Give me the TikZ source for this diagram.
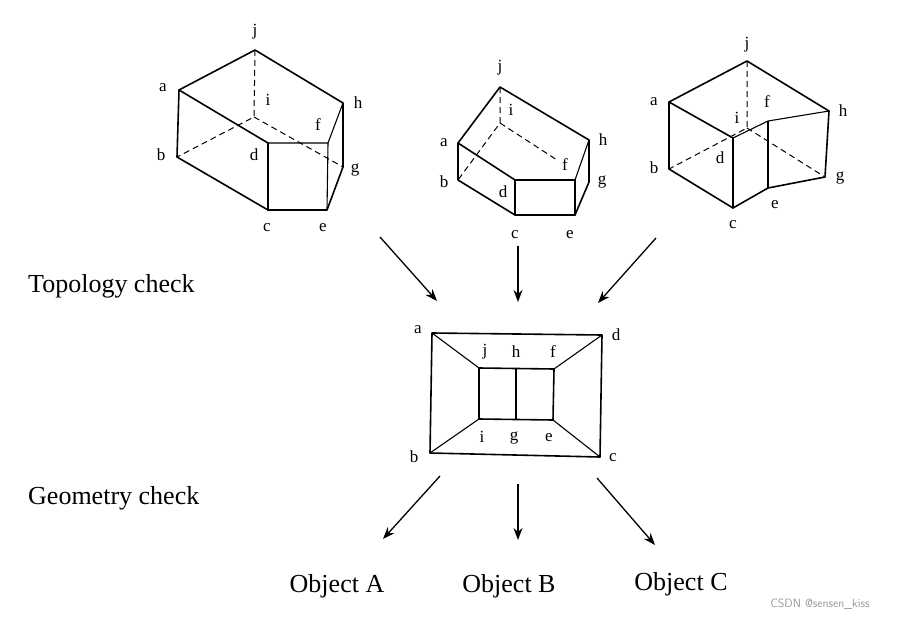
\documentclass[tikz,border=0pt]{standalone}
\usepackage{fontspec}
\setmainfont{Liberation Serif}
\usetikzlibrary{arrows.meta}
\begin{document}
\begin{tikzpicture}[x=1pt,y=-1pt,
  edge/.style={line width=1.6pt,line join=round,line cap=round},
  thin/.style={line width=1.1pt},
  hid/.style={line width=1pt,dash pattern=on 6pt off 4pt},
  lab/.style={font=\fontsize{17}{17}\selectfont,inner sep=0pt},
  big/.style={font=\fontsize{26}{26}\selectfont,inner sep=0pt},
  arr/.style={line width=1.3pt,-{Stealth[length=12pt,width=9pt]}}]
\useasboundingbox (0,0) rectangle (913,618);
% ---- figure 1
\coordinate (Aj) at (255,50); \coordinate (Aa) at (179,90); \coordinate (Ah) at (343,103);
\coordinate (Ai) at (254,117); \coordinate (Ab) at (177,157); \coordinate (Ad) at (268,143);
\coordinate (Af) at (328,143); \coordinate (Ag) at (343,167); \coordinate (Ac) at (268,210);
\coordinate (Ae) at (327,210);
\draw[edge] (Ab)--(Aa)--(Aj)--(Ah)--(Ag)--(Ae)--(Ac)--(Ab);
\draw[edge] (Aa)--(Ad)--(Ac); \draw[thin] (Ad)--(Af)--(Ae); \draw[thin] (Af)--(Ah);
\draw[hid] (Aj)--(Ai)--(Ab); \draw[hid] (Ai)--(Ag);
\node[lab] (la1) at (255,32) {j}; \node[lab] (la2) at (163,88) {a}; \node[lab] (la3) at (268,100) {i};
\node[lab] (la4) at (358,103) {h}; \node[lab] (la5) at (318,125) {f}; \node[lab] (la6) at (161,155) {b};
\node[lab] (la7) at (254,155) {d}; \node[lab] (la8) at (355,170) {g}; \node[lab] (la9) at (267,228) {c};
\node[lab] (la10) at (323,228) {e};
% ---- figure 2
\coordinate (Bj) at (500,87); \coordinate (Ba) at (458,143); \coordinate (Bi) at (500,123);
\coordinate (Bh) at (589,140); \coordinate (Bx) at (557,160); \coordinate (Bb) at (458,180);
\coordinate (Bd) at (515,180); \coordinate (Bf) at (575,180); \coordinate (Bg) at (589,182);
\coordinate (Bc) at (515,215); \coordinate (Be) at (575,215);
\draw[edge] (Bb)--(Ba)--(Bj)--(Bh)--(Bg)--(Be)--(Bc)--(Bb);
\draw[edge] (Ba)--(Bd)--(Bc); \draw[edge] (Bd)--(Bf)--(Be); \draw[thin] (Bf)--(Bh);
\draw[hid] (Bj)--(Bi)--(Bb); \draw[hid] (Bi)--(Bx);
\node[lab] (lb1) at (500,68) {j}; \node[lab] (lb2) at (511,110) {i}; \node[lab] (lb3) at (444,143) {a};
\node[lab] (lb4) at (603,140) {h}; \node[lab] (lb5) at (565,165) {f}; \node[lab] (lb6) at (444,182) {b};
\node[lab] (lb7) at (602,182) {g}; \node[lab] (lb8) at (503,192) {d}; \node[lab] (lb9) at (515,235) {c};
\node[lab] (lb10) at (570,235) {e};
% ---- figure 3
\coordinate (Cj) at (747,61); \coordinate (Ca) at (669,102); \coordinate (Ch) at (829,111);
\coordinate (Cf) at (768,121); \coordinate (Cd) at (733,138); \coordinate (Ci) at (747,128);
\coordinate (Cb) at (669,169); \coordinate (Cg) at (825,177); \coordinate (Ce) at (768,188);
\coordinate (Cc) at (733,208);
\draw[edge] (Cb)--(Ca)--(Cj)--(Ch)--(Cg)--(Ce)--(Cc)--(Cb);
\draw[edge] (Ca)--(Cd)--(Cc); \draw[thin] (Cd)--(Cf)--(Ch); \draw[thin] (Cf)--(Ce);
\draw[hid] (Cj)--(Ci)--(Cb); \draw[hid] (Ci)--(Cg);
\node[lab] (lc1) at (747,45) {j}; \node[lab] (lc2) at (654,102) {a}; \node[lab] (lc3) at (767,102) {f};
\node[lab] (lc4) at (737,118) {i}; \node[lab] (lc5) at (843,111) {h}; \node[lab] (lc6) at (654,168) {b};
\node[lab] (lc7) at (720,158) {d}; \node[lab] (lc8) at (840,178) {g}; \node[lab] (lc9) at (775,205) {e};
\node[lab] (lc10) at (733,225) {c};
% ---- center graph
\coordinate (Da) at (432,333); \coordinate (Dd) at (602,335); \coordinate (Db) at (430,453);
\coordinate (Dc) at (600,457); \coordinate (Dj) at (479,368); \coordinate (Df) at (554,369);
\coordinate (Di) at (479,419); \coordinate (De) at (553,420); \coordinate (Dh) at (516,368.5);
\coordinate (Dg) at (516,419.5);
\draw[edge] (Da)--(Dd)--(Dc)--(Db)--cycle;
\draw[edge] (Dj)--(Df)--(De)--(Di)--cycle;
\draw[thin] (Dh)--(Dg);
\draw[thin] (Da)--(Dj); \draw[thin] (Dd)--(Df); \draw[thin] (Db)--(Di); \draw[thin] (Dc)--(De);
\node[lab] (ld1) at (418,330) {a}; \node[lab] (ld2) at (616,335) {d}; \node[lab] (ld3) at (414,457) {b};
\node[lab] (ld4) at (613,458) {c}; \node[lab] (ld5) at (485,352) {j}; \node[lab] (ld6) at (516,352) {h};
\node[lab] (ld7) at (553,352) {f}; \node[lab] (ld8) at (482,437) {i}; \node[lab] (ld9) at (514,438) {g};
\node[lab] (ld10) at (549,438) {e};
% ---- arrows
\coordinate (p1) at (380,237); \coordinate (q1) at (437,301);
\coordinate (p2) at (518,246); \coordinate (q2) at (518,302);
\coordinate (p3) at (656,238); \coordinate (q3) at (598,303);
\coordinate (p4) at (440,476); \coordinate (q4) at (383,539);
\coordinate (p5) at (518,484); \coordinate (q5) at (518,540);
\coordinate (p6) at (597,478); \coordinate (q6) at (655,545);
\draw[arr] (p1)--(q1); \draw[arr] (p2)--(q2); \draw[arr] (p3)--(q3);
\draw[arr] (p4)--(q4); \draw[arr] (p5)--(q5); \draw[arr] (p6)--(q6);
% ---- texts
\node[big,anchor=west] (t1) at (28,286) {Topology check};
\node[big,anchor=west] (t2) at (28,498) {Geometry check};
\node[big] (o1) at (337,586) {Object A};
\node[big] (o2) at (509,586) {Object B};
\node[big] (o3) at (681,584) {Object C};
\node[inner sep=0pt,text=black!40,font=\fontsize{12}{12}\selectfont\sffamily] (wm) at (820,604) {CSDN @sensen\_kiss};
\end{tikzpicture}
\end{document}
